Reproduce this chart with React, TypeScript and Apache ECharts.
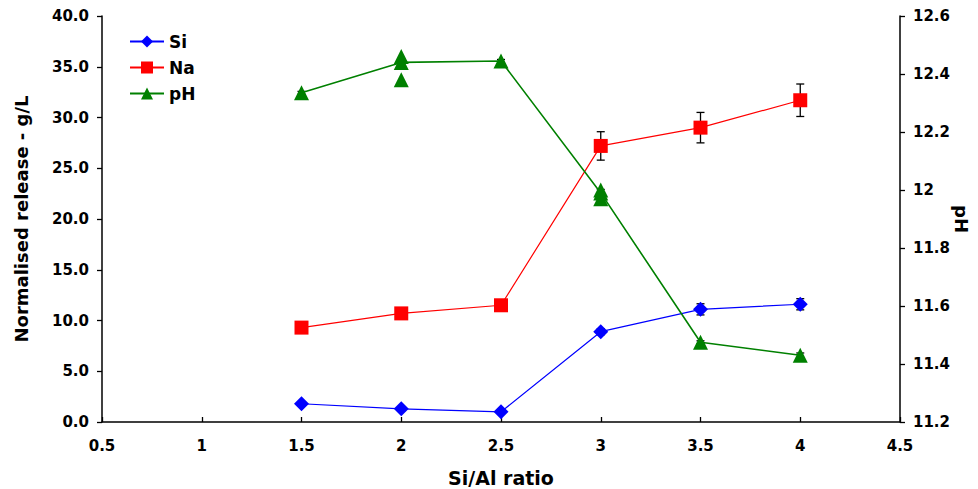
import React, { useEffect, useRef } from "react";
import * as echarts from "echarts";

const ratios = [1.5, 2, 2.5, 3, 3.5, 4];
const siValues = [1.8, 1.3, 1.0, 8.9, 11.1, 11.6];
const siErrors = [0.2, 0.2, 0.2, 0.3, 0.55, 0.55];
const naValues = [9.3, 10.7, 11.5, 27.2, 29.0, 31.7];
const naErrors = [0.3, 0.3, 0.3, 1.4, 1.5, 1.6];
const phValues = [12.335, 12.44, 12.445, 11.99, 11.475, 11.43];
const phErrors = [0.005, 0.012, 0.005, 0.012, 0.005, 0.008];
const phReplicateX = [2, 2, 3, 3];
const phReplicateY = [12.46, 12.38, 12.0, 11.97];

const FONT = "DejaVu Sans, Liberation Sans, Arial, sans-serif";

function errorSeries(name: string, values: number[], errs: number[], yAxisIndex: number) {
  return {
    name: name + "-err",
    type: "custom",
    yAxisIndex,
    z: 1,
    silent: true,
    data: ratios.map((x, i) => [x, values[i] - errs[i], values[i] + errs[i]]),
    renderItem: (params: any, api: any) => {
      const lo = api.coord([api.value(0), api.value(1)]);
      const hi = api.coord([api.value(0), api.value(2)]);
      const w = 4;
      const style = { stroke: "#000", lineWidth: 1.3 };
      return {
        type: "group",
        children: [
          { type: "line", shape: { x1: lo[0], y1: lo[1], x2: hi[0], y2: hi[1] }, style },
          { type: "line", shape: { x1: lo[0] - w, y1: lo[1], x2: lo[0] + w, y2: lo[1] }, style },
          { type: "line", shape: { x1: hi[0] - w, y1: hi[1], x2: hi[0] + w, y2: hi[1] }, style },
        ],
      };
    },
  };
}

export default function App() {
  const ref = useRef<HTMLDivElement>(null);
  useEffect(() => {
    if (!ref.current) return;
    const chart = echarts.init(ref.current, undefined, { renderer: "svg" });
    const axisLabel = { color: "#000", fontFamily: FONT, fontWeight: "bold", fontSize: 15 };
    const nameStyle = { color: "#000", fontFamily: FONT, fontWeight: "bold", fontSize: 18 };
    const axisLine = { show: true, onZero: false, lineStyle: { color: "#000", width: 1.5 } };
    chart.setOption({
      animation: false,
      backgroundColor: "#fff",
      grid: {
        left: 102,
        right: 78,
        top: 16,
        bottom: 67,
        containLabel: false,
        outerBoundsMode: "none",
      },
      legend: {
        orient: "vertical",
        left: 124,
        top: 28,
        itemWidth: 34,
        itemHeight: 15,
        itemGap: 9,
        data: ["Si", "Na", "pH"],
        textStyle: { color: "#000", fontFamily: FONT, fontWeight: "bold", fontSize: 17 },
      },
      xAxis: {
        type: "value",
        min: 0.5,
        max: 4.5,
        interval: 0.5,
        name: "Si/Al ratio",
        nameLocation: "middle",
        nameGap: 46,
        nameMoveOverlap: false,
        nameTextStyle: { ...nameStyle, fontSize: 19 },
        axisLine,
        axisTick: { show: true, inside: true, length: 5, lineStyle: { color: "#000", width: 1.3 } },
        axisLabel: { ...axisLabel, margin: 16 },
        splitLine: { show: false },
      },
      yAxis: [
        {
          type: "value",
          min: 0,
          max: 40,
          interval: 5,
          name: "Normalised release - g/L",
          nameLocation: "middle",
          nameGap: 72,
          nameMoveOverlap: false,
          nameTextStyle: nameStyle,
          axisLine,
          axisTick: { show: true, length: 5, lineStyle: { color: "#000", width: 1.3 } },
          axisLabel: { ...axisLabel, margin: 13, formatter: (v: number) => v.toFixed(1) },
          splitLine: { show: false },
        },
        {
          type: "value",
          position: "right",
          min: 11.2,
          max: 12.6,
          interval: 0.2,
          name: "pH",
          nameLocation: "middle",
          nameGap: 52,
          nameMoveOverlap: false,
          nameRotate: -90,
          nameTextStyle: nameStyle,
          axisLine,
          axisTick: { show: true, length: 5, lineStyle: { color: "#000", width: 1.3 } },
          axisLabel: {
            ...axisLabel,
            margin: 13,
            formatter: (v: number) => String(Math.round(v * 10) / 10),
          },
          splitLine: { show: false },
        },
      ],
      series: [
        errorSeries("Si", siValues, siErrors, 0),
        errorSeries("Na", naValues, naErrors, 0),
        errorSeries("pH", phValues, phErrors, 1),
        {
          name: "Si",
          type: "line",
          yAxisIndex: 0,
          z: 3,
          data: ratios.map((x, i) => [x, siValues[i]]),
          symbol: "diamond",
          symbolSize: 15,
          itemStyle: { color: "#0000ff" },
          lineStyle: { color: "#0000ff", width: 1.2 },
        },
        {
          name: "Na",
          type: "line",
          yAxisIndex: 0,
          z: 3,
          data: ratios.map((x, i) => [x, naValues[i]]),
          symbol: "rect",
          symbolSize: 14,
          itemStyle: { color: "#ff0000" },
          lineStyle: { color: "#ff0000", width: 1.2 },
        },
        {
          name: "pH",
          type: "line",
          yAxisIndex: 1,
          z: 3,
          data: ratios.map((x, i) => [x, phValues[i]]),
          symbol: "triangle",
          symbolSize: 15,
          itemStyle: { color: "#008000" },
          lineStyle: { color: "#008000", width: 1.6 },
        },
        {
          name: "pH-rep",
          type: "scatter",
          yAxisIndex: 1,
          z: 3,
          data: phReplicateX.map((x, i) => [x, phReplicateY[i]]),
          symbol: "triangle",
          symbolSize: 15,
          itemStyle: { color: "#008000", opacity: 1 },
        },
      ],
    });
    return () => chart.dispose();
  }, []);
  return (
    <div
      ref={ref}
      style={{ position: "absolute", left: 0, top: 0, width: 978, height: 489 }}
    />
  );
}
